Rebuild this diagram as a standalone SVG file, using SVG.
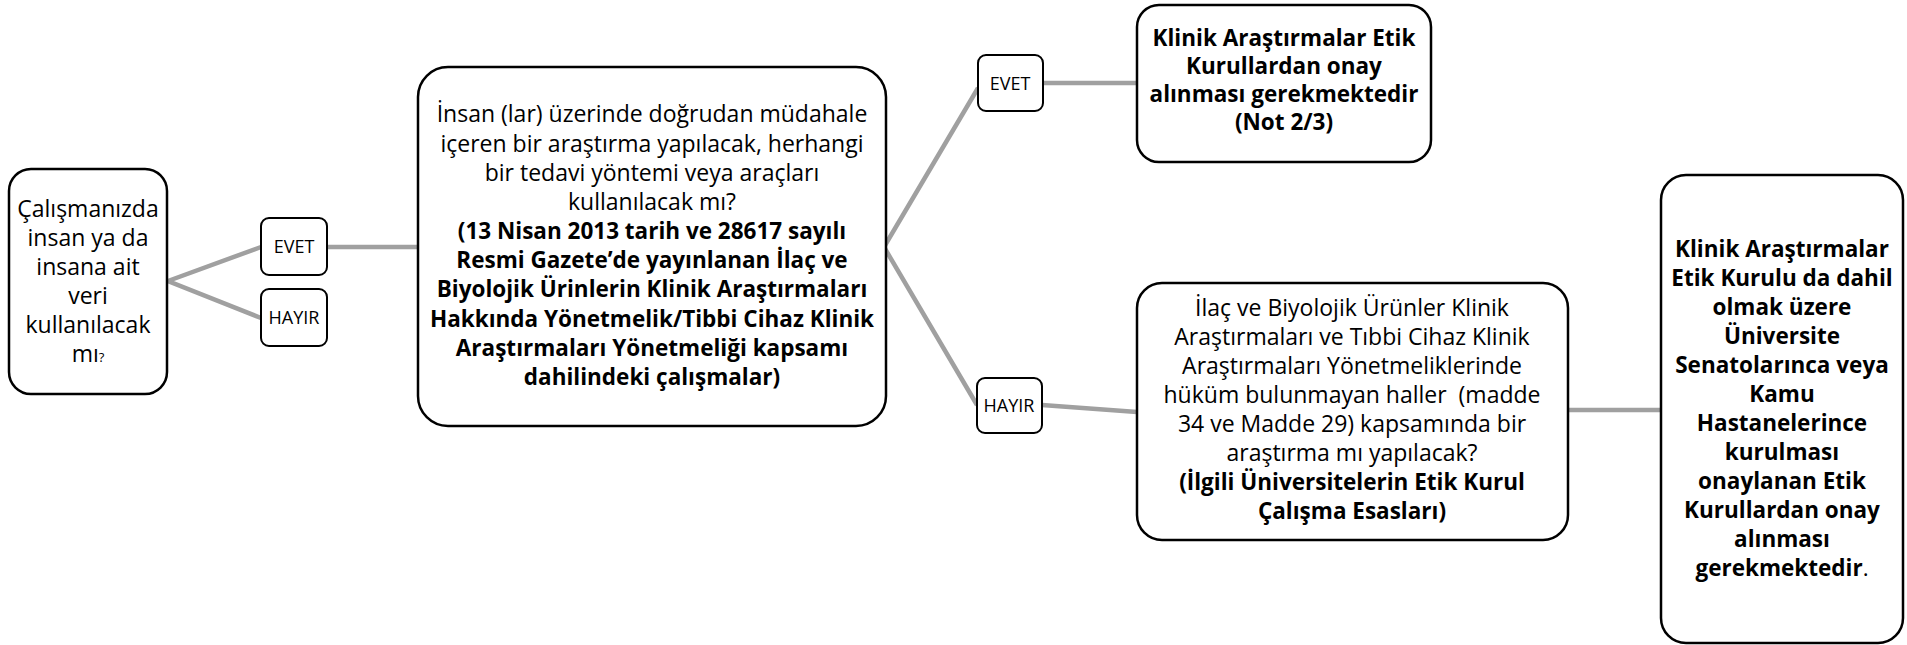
<svg xmlns="http://www.w3.org/2000/svg" width="1907" height="645" viewBox="0 0 1907 645">
<style>
.box{fill:#fff;stroke:#000;stroke-width:2.5}
.lbl{fill:#fff;stroke:#000;stroke-width:2}
.con{fill:none;stroke:#a0a0a0;stroke-width:4.5;stroke-linecap:butt}
text{font-family:"Open Sans","Noto Sans",sans-serif;fill:#000;text-anchor:middle}
.t{font-size:23px}
.b{font-size:22.5px;font-weight:bold}
.s{font-size:18px}
</style>
<rect width="1907" height="645" fill="#fff"/>
<g id="connectors">
<polyline class="con" points="261,247 168,281 261,318"/>
<line class="con" x1="327" y1="247" x2="418" y2="247"/>
<polyline class="con" points="978,88 884,247 977,405"/>
<line class="con" x1="1043" y1="83" x2="1137" y2="83"/>
<line class="con" x1="1042" y1="405" x2="1137" y2="412"/>
<line class="con" x1="1568" y1="410" x2="1661" y2="410"/>
</g>
<g id="n1">
<rect class="box" x="9" y="169" width="158" height="225" rx="22"/>
<text class="t" x="88" y="217">Çalışmanızda</text>
<text class="t" x="88" y="246">insan ya da</text>
<text class="t" x="88" y="275">insana ait</text>
<text class="t" x="88" y="304">veri</text>
<text class="t" x="88" y="333">kullanılacak</text>
<text class="t" x="88" y="362">mı<tspan font-size="13px">?</tspan></text>
</g>
<g id="n1-evet">
<rect class="lbl" x="261" y="218" width="66" height="57" rx="8"/>
<text class="s" x="294" y="253">EVET</text>
</g>
<g id="n1-hayir">
<rect class="lbl" x="261" y="289" width="66" height="57" rx="8"/>
<text class="s" x="294" y="324">HAYIR</text>
</g>
<g id="n2">
<rect class="box" x="418" y="67" width="468" height="359" rx="30"/>
<text class="t" x="652" y="122">İnsan (lar) üzerinde doğrudan müdahale</text>
<text class="t" x="652" y="152">içeren bir araştırma yapılacak, herhangi</text>
<text class="t" x="652" y="181">bir tedavi yöntemi veya araçları</text>
<text class="t" x="652" y="210">kullanılacak mı?</text>
<text class="b" x="652" y="239">(13 Nisan 2013 tarih ve 28617 sayılı</text>
<text class="b" x="652" y="268">Resmi Gazete’de yayınlanan İlaç ve</text>
<text class="b" x="652" y="297">Biyolojik Ürinlerin Klinik Araştırmaları</text>
<text class="b" x="652" y="327">Hakkında Yönetmelik/Tibbi Cihaz Klinik</text>
<text class="b" x="652" y="356">Araştırmaları Yönetmeliği kapsamı</text>
<text class="b" x="652" y="385">dahilindeki çalışmalar)</text>
</g>
<g id="n2-evet">
<rect class="lbl" x="978" y="55" width="65" height="56" rx="8"/>
<text class="s" x="1010" y="90">EVET</text>
</g>
<g id="n2-hayir">
<rect class="lbl" x="977" y="378" width="65" height="55" rx="8"/>
<text class="s" x="1009" y="412">HAYIR</text>
</g>
<g id="n3">
<rect class="box" x="1137" y="5" width="294" height="157" rx="22"/>
<text class="b" x="1284" y="46">Klinik Araştırmalar Etik</text>
<text class="b" x="1284" y="74">Kurullardan onay</text>
<text class="b" x="1284" y="102">alınması gerekmektedir</text>
<text class="b" x="1284" y="130">(Not 2/3)</text>
</g>
<g id="n4">
<rect class="box" x="1137" y="283" width="431" height="257" rx="25"/>
<text class="t" x="1352" y="316">İlaç ve Biyolojik Ürünler Klinik</text>
<text class="t" x="1352" y="345">Araştırmaları ve Tıbbi Cihaz Klinik</text>
<text class="t" x="1352" y="374">Araştırmaları Yönetmeliklerinde</text>
<text class="t" x="1352" y="403" xml:space="preserve">hüküm bulunmayan haller  (madde</text>
<text class="t" x="1352" y="432">34 ve Madde 29) kapsamında bir</text>
<text class="t" x="1352" y="461">araştırma mı yapılacak?</text>
<text class="b" x="1352" y="490">(İlgili Üniversitelerin Etik Kurul</text>
<text class="b" x="1352" y="519">Çalışma Esasları)</text>
</g>
<g id="n5">
<rect class="box" x="1661" y="175" width="242" height="468" rx="25"/>
<text class="b" x="1782" y="257">Klinik Araştırmalar</text>
<text class="b" x="1782" y="286">Etik Kurulu da dahil</text>
<text class="b" x="1782" y="315">olmak üzere</text>
<text class="b" x="1782" y="344">Üniversite</text>
<text class="b" x="1782" y="373">Senatolarınca veya</text>
<text class="b" x="1782" y="402">Kamu</text>
<text class="b" x="1782" y="431">Hastanelerince</text>
<text class="b" x="1782" y="460">kurulması</text>
<text class="b" x="1782" y="489">onaylanan Etik</text>
<text class="b" x="1782" y="518">Kurullardan onay</text>
<text class="b" x="1782" y="547">alınması</text>
<text class="b" x="1782" y="576">gerekmektedir<tspan font-weight="normal">.</tspan></text>
</g>
</svg>
